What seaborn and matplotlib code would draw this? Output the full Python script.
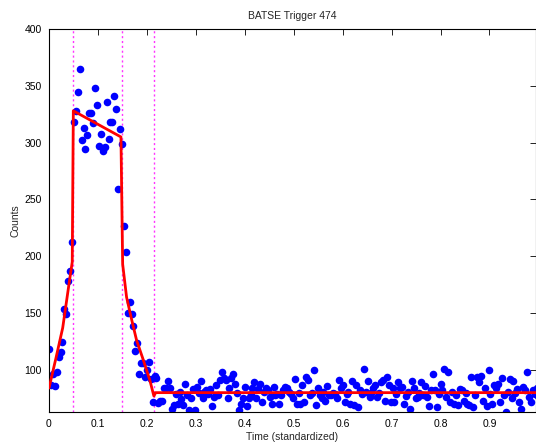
import numpy as np
import pandas as pd
import matplotlib
matplotlib.use("Agg")
import matplotlib.pyplot as plt
import seaborn as sns

# Observed counts per time bin (BATSE trigger 474), evenly spaced on [0, 1]
rise_counts = [118, 87, 96, 86, 98, 111, 116, 125, 154, 149, 178, 187, 213]
peak_counts = [318, 328, 345, 365, 302, 313, 294, 307, 326, 326, 317, 348, 333,
               297, 308, 293, 296, 336, 303, 318, 318, 341, 330, 259, 312, 299]
decay_counts = [227, 204, 150, 160, 149, 139, 117, 124, 96, 106, 106, 94, 100,
                107, 92, 72, 95, 93, 71, 73, 73, 84]
background_counts = [
    84, 90, 84, 66, 69, 79, 70, 81, 74, 69, 88, 78, 65, 75, 83, 65, 85, 80, 90, 75,
    81, 82, 79, 83, 68, 76, 87, 78, 91, 98, 93,
    91, 75, 84, 93, 96, 88, 80, 65, 70, 75, 85, 68, 75, 79, 84, 89, 75, 83, 88, 72,
    81, 84, 82, 76, 70, 85, 78, 79, 70, 78, 82, 85,
    84, 81, 79, 75, 92, 70, 80, 70, 87, 72, 94, 91, 78, 80, 100, 69, 84, 78, 75, 81,
    73, 86, 78, 78, 80, 79, 75, 91, 84, 87, 72, 79, 81,
    70, 90, 69, 87, 67, 82, 79, 101, 81, 90, 76, 80, 84, 87, 76, 80, 89, 91, 73, 94,
    87, 72, 84, 72, 79, 89, 84, 85, 70, 77, 81, 66,
    90, 84, 75, 76, 80, 89, 78, 86, 76, 68, 82, 96, 82, 67, 79, 88, 82, 101, 76, 98,
    72, 81, 70, 78, 69, 83, 82, 73, 80, 70, 69, 94,
    67, 78, 94, 89, 95, 73, 84, 68, 100, 79, 70, 87, 84, 88, 72, 93, 78, 63, 81, 92,
    75, 90, 80, 83, 72, 66, 85, 82, 98, 76, 72, 82, 79,
    84, 77,
]
counts = rise_counts + peak_counts + decay_counts + background_counts
time = np.linspace(0.0, 1.0, len(counts))

# Fitted piecewise pulse model (knots of the red curve)
fit_time = [0.0, 0.014, 0.028, 0.036, 0.041, 0.0475, 0.0497, 0.147, 0.1505,
            0.1585, 0.169, 0.179, 0.1925, 0.206, 0.2143, 0.218, 1.0]
fit_counts = [84, 110, 137, 161, 176, 195, 328, 305, 193,
              164, 144, 126, 109, 91, 77, 80, 80]

# Estimated change points
change_points = [0.05, 0.15, 0.215]

x_ticks = [0, 0.1, 0.2, 0.3, 0.4, 0.5, 0.6, 0.7, 0.8, 0.9]
x_tick_labels = ["0", "0.1", "0.2", "0.3", "0.4", "0.5", "0.6", "0.7", "0.8", "0.9"]
y_ticks = [100, 150, 200, 250, 300, 350, 400]

sns.set_style("white")
plt.rcParams["font.family"] = ["Liberation Sans", "DejaVu Sans"]

W, H = 536, 443
fig = plt.figure(figsize=(W / 100, H / 100), dpi=100)
left, right, top, bottom = 49, 535.5, 29, 412.3
ax = fig.add_axes([left / W, 1 - bottom / H, (right - left) / W, (bottom - top) / H])

for cp in change_points:
    ax.axvline(cp, color="#ff33ff", lw=1.0, ls=(0, (1.5, 2)), zorder=1)

obs = pd.DataFrame({"time": time, "counts": counts})
sns.scatterplot(data=obs, x="time", y="counts", ax=ax, color="#0000ff",
                s=30, linewidth=0, zorder=2, legend=False)

fit = pd.DataFrame({"time": fit_time, "counts": fit_counts})
sns.lineplot(data=fit, x="time", y="counts", ax=ax, sort=False, estimator=None,
             color="#ff0000", lw=2.0, zorder=3)

ax.set_xlim(0, 0.994)
ax.set_ylim(62.7, 400)
ax.set_xticks(x_ticks)
ax.set_xticklabels(x_tick_labels)
ax.set_yticks(y_ticks)

for s in ax.spines.values():
    s.set_visible(True)
    s.set_color("black")
    s.set_linewidth(0.8)

ax.tick_params(direction="in", length=4, width=0.6, top=True, right=True,
               labelsize=7.5, colors="black", pad=5)

ax.set_xlabel("Time (standardized)", fontsize=7.5, labelpad=2)
ax.set_ylabel("Counts", fontsize=7.5, labelpad=3)
ax.set_title("BATSE Trigger 474", fontsize=7.5, pad=7)

fig.savefig("out.png", dpi=100)
